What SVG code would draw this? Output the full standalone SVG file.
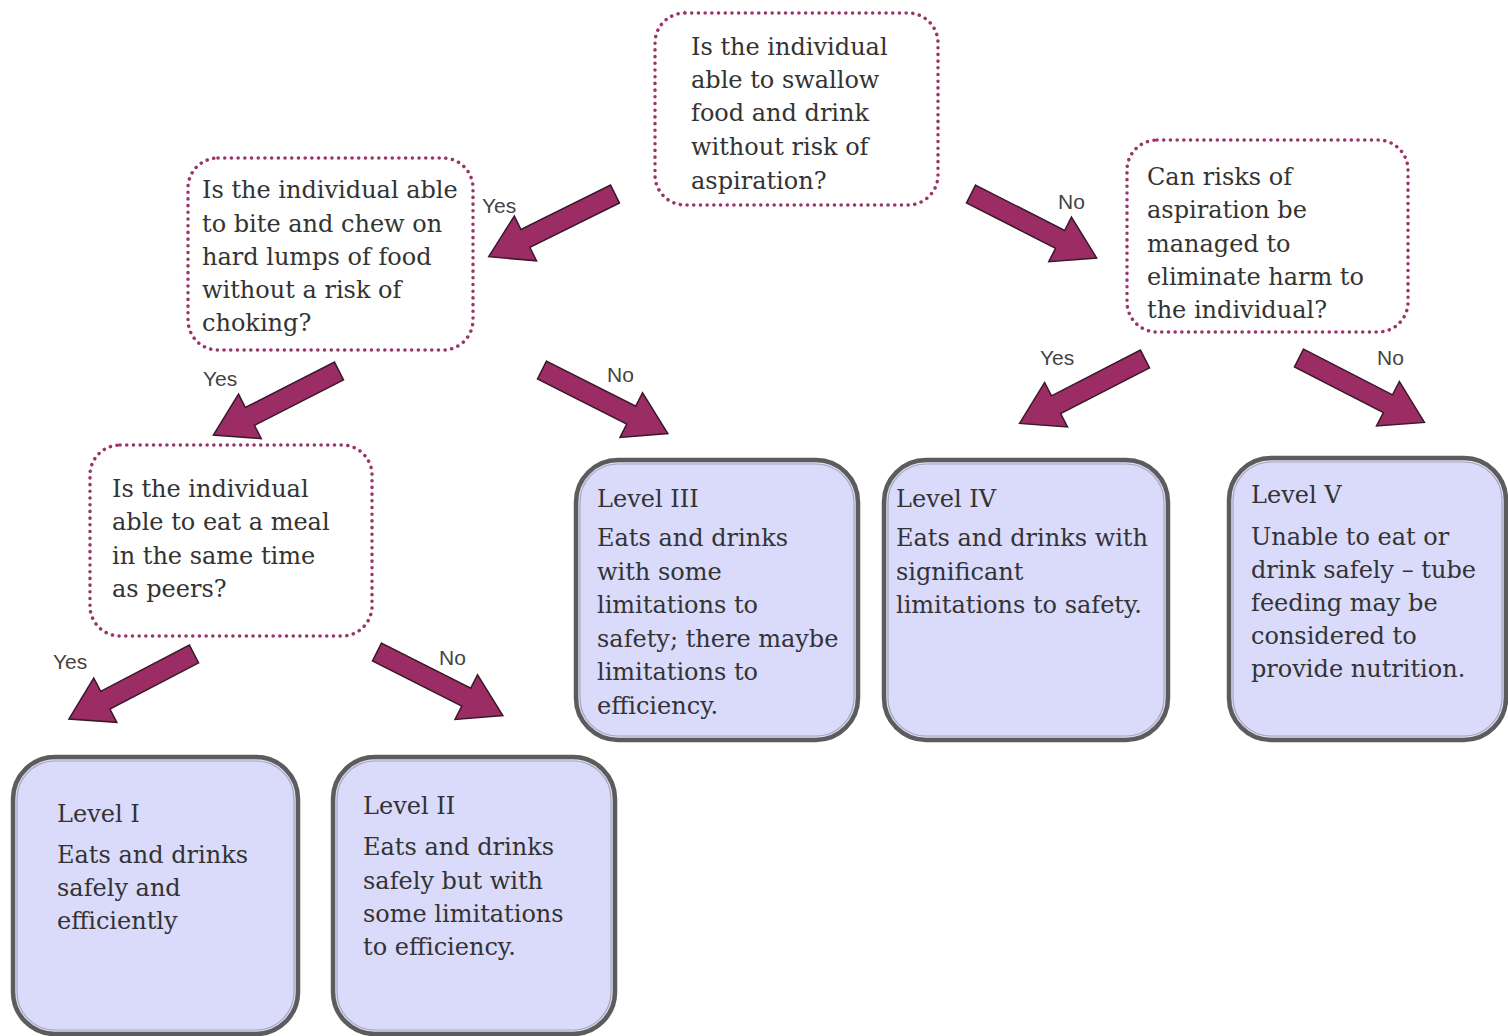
<svg xmlns="http://www.w3.org/2000/svg" xmlns:xlink="http://www.w3.org/1999/xlink" width="1508" height="1036" viewBox="0 0 1508 1036">
<style>
.q{fill:#fff;stroke:#9b3468;stroke-width:3.5;stroke-dasharray:0.1 6.6;stroke-linecap:round}
.lv{fill:#dadafb;stroke:#5c5c5c;stroke-width:4.5}
.lvi{fill:none;stroke:#a8a8b8;stroke-width:1.2}
.t{font-family:"DejaVu Serif","Liberation Serif",serif;font-size:24px;fill:#333}
.lb{font-family:"Liberation Sans",Arial,sans-serif;font-size:21px;fill:#444}
.ar{fill:#9c2c64;stroke:#3a1a2a;stroke-width:1.5;stroke-linejoin:miter}
</style>
<defs>
<path id="arr" d="M0,-10 L100,-10 L100,-25 L141,0 L100,25 L100,10 L0,10 Z"/>
</defs>
<rect width="1508" height="1036" fill="#fff"/>

<g id="connectors">
<use xlink:href="#arr" class="ar" transform="translate(615,194) rotate(153.6)"/>
<use xlink:href="#arr" class="ar" transform="translate(971,194) rotate(27)"/>
<use xlink:href="#arr" class="ar" transform="translate(339,371) rotate(153)"/>
<use xlink:href="#arr" class="ar" transform="translate(542,370) rotate(26.8)"/>
<use xlink:href="#arr" class="ar" transform="translate(1145,359) rotate(152.8)"/>
<use xlink:href="#arr" class="ar" transform="translate(1299,358) rotate(27.2)"/>
<use xlink:href="#arr" class="ar" transform="translate(194,654) rotate(152.5)"/>
<use xlink:href="#arr" class="ar" transform="translate(377,652) rotate(26.8)"/>
<text class="lb" x="482" y="213">Yes</text>
<text class="lb" x="1058" y="209">No</text>
<text class="lb" x="203" y="386">Yes</text>
<text class="lb" x="607" y="382">No</text>
<text class="lb" x="1040" y="365">Yes</text>
<text class="lb" x="1377" y="365">No</text>
<text class="lb" x="53" y="669">Yes</text>
<text class="lb" x="439" y="665">No</text>
</g>

<g id="q1">
<rect class="q" x="655" y="13" width="283" height="192" rx="30"/>
<text class="t"><tspan x="691" y="55">Is the individual</tspan><tspan x="691" y="88">able to swallow</tspan><tspan x="691" y="121">food and drink</tspan><tspan x="691" y="155">without risk of</tspan><tspan x="691" y="189">aspiration?</tspan></text>
</g>

<g id="q2">
<rect class="q" x="188" y="158" width="285" height="192" rx="30"/>
<text class="t"><tspan x="202" y="198">Is the individual able</tspan><tspan x="202" y="232">to bite and chew on</tspan><tspan x="202" y="265">hard lumps of food</tspan><tspan x="202" y="298">without a risk of</tspan><tspan x="202" y="331">choking?</tspan></text>
</g>

<g id="q3">
<rect class="q" x="1127" y="140" width="281" height="192" rx="30"/>
<text class="t"><tspan x="1147" y="185">Can risks of</tspan><tspan x="1147" y="218">aspiration be</tspan><tspan x="1147" y="252">managed to</tspan><tspan x="1147" y="285">eliminate harm to</tspan><tspan x="1147" y="318">the individual?</tspan></text>
</g>

<g id="q4">
<rect class="q" x="90" y="445" width="282" height="191" rx="30"/>
<text class="t"><tspan x="112" y="497">Is the individual</tspan><tspan x="112" y="530">able to eat a meal</tspan><tspan x="112" y="564">in the same time</tspan><tspan x="112" y="597">as peers?</tspan></text>
</g>

<g id="level3">
<rect class="lv" x="576" y="460" width="282" height="280" rx="42"/>
<rect class="lvi" x="580" y="464" width="274" height="272" rx="38"/>
<text class="t"><tspan x="597" y="507">Level III</tspan><tspan x="597" y="546">Eats and drinks</tspan><tspan x="597" y="580">with some</tspan><tspan x="597" y="613">limitations to</tspan><tspan x="597" y="647">safety; there maybe</tspan><tspan x="597" y="680">limitations to</tspan><tspan x="597" y="714">efficiency.</tspan></text>
</g>

<g id="level4">
<rect class="lv" x="884" y="460" width="284" height="280" rx="42"/>
<rect class="lvi" x="888" y="464" width="276" height="272" rx="38"/>
<text class="t"><tspan x="896" y="507">Level IV</tspan><tspan x="896" y="546">Eats and drinks with</tspan><tspan x="896" y="580">significant</tspan><tspan x="896" y="613">limitations to safety.</tspan></text>
</g>

<g id="level5">
<rect class="lv" x="1229" y="458" width="277" height="282" rx="42"/>
<rect class="lvi" x="1233" y="462" width="269" height="274" rx="38"/>
<text class="t"><tspan x="1251" y="503">Level V</tspan><tspan x="1251" y="545">Unable to eat or</tspan><tspan x="1251" y="578">drink safely – tube</tspan><tspan x="1251" y="611">feeding may be</tspan><tspan x="1251" y="644">considered to</tspan><tspan x="1251" y="677">provide nutrition.</tspan></text>
</g>

<g id="level1">
<rect class="lv" x="13" y="757" width="285" height="277" rx="42"/>
<rect class="lvi" x="17" y="761" width="277" height="269" rx="38"/>
<text class="t"><tspan x="57" y="822">Level I</tspan><tspan x="57" y="863">Eats and drinks</tspan><tspan x="57" y="896">safely and</tspan><tspan x="57" y="929">efficiently</tspan></text>
</g>

<g id="level2">
<rect class="lv" x="333" y="757" width="282" height="277" rx="42"/>
<rect class="lvi" x="337" y="761" width="274" height="269" rx="38"/>
<text class="t"><tspan x="363" y="814">Level II</tspan><tspan x="363" y="855">Eats and drinks</tspan><tspan x="363" y="889">safely but with</tspan><tspan x="363" y="922">some limitations</tspan><tspan x="363" y="955">to efficiency.</tspan></text>
</g>
</svg>
